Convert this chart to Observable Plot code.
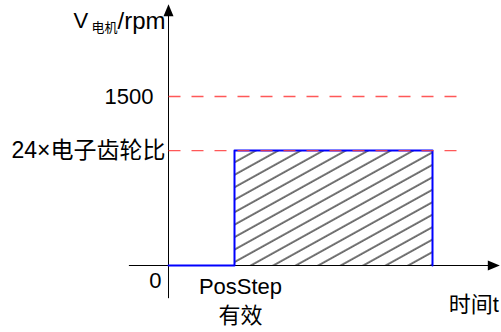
<!DOCTYPE html>
<html>
<head>
<meta charset="utf-8">
<script src="https://cdn.jsdelivr.net/npm/d3@7"></script>
<script src="https://cdn.jsdelivr.net/npm/@observablehq/plot@0.6"></script>
<style>
  html, body { margin: 0; padding: 0; background: #fff; }
  #chart svg { display: block; }
</style>
</head>
<body>
<div id="chart"></div>
<script>
// ---- data ----
const eventTimes = [0, 1, 4];            // origin, PosStep valid, end of motion
const levelNames = ["0", "24×电子齿轮比", "1500"];
const levelValues = [0, 1020, 1500];      // rpm
const stepT = [0, 1, 1, 4, 4];
const stepV = [0, 0, 1020, 1020, 0];
const xAxisExtent = [-0.6, 5.02];         // time axis span (t units)
const yAxisExtent = [-290, 2318];         // speed axis span (rpm)
const dashedEnd = 4.42;
const yLabelMain = "V";
const yLabelSub = "电机";
const yLabelUnit = "/rpm";
const xLabel = "时间t";
const eventLabel = ["PosStep", "有效"];

const FONT = "'Liberation Sans', Arial, 'Noto Sans CJK SC', sans-serif";
const L = levelValues[1];

const step = stepT.map((t, i) => ({t, v: stepV[i]}));
const dashed = [levelValues[2], levelValues[1]].map(v => ({x1: eventTimes[0], x2: dashedEnd, y: v}));

const arrowSymbol = {
  draw(ctx) {
    ctx.moveTo(0, 0);
    ctx.lineTo(-5, 12);
    ctx.lineTo(5, 12);
    ctx.closePath();
  }
};

const plot = Plot.plot({
  width: 501,
  height: 332,
  marginLeft: 168,
  marginRight: 69,
  marginTop: 96,
  marginBottom: 67,
  style: {background: "#fff", fontFamily: FONT},
  x: {domain: [eventTimes[0], eventTimes[2]], axis: null},
  y: {domain: [levelValues[0], levelValues[2]], axis: null},
  marks: [
    Plot.rect([{x1: eventTimes[1], x2: eventTimes[2], y1: 0, y2: L}], {
      x1: "x1", x2: "x2", y1: "y1", y2: "y2", fill: "url(#hatch)", inset: 0
    }),
    // axes lines
    Plot.link([{x1: xAxisExtent[0], x2: xAxisExtent[1] - 0.1, y: 0}], {
      x1: "x1", x2: "x2", y1: "y", y2: "y", stroke: "#000", strokeWidth: 1
    }),
    Plot.link([{y1: yAxisExtent[0], y2: yAxisExtent[1] - 80, x: 0}], {
      y1: "y1", y2: "y2", x1: "x", x2: "x", stroke: "#000", strokeWidth: 1
    }),
    // blue step outline
    Plot.line(step, {x: "t", y: "v", stroke: "#0000ff", strokeWidth: 2}),
    // red dashed reference lines
    Plot.link(dashed, {
      x1: "x1", x2: "x2", y1: "y", y2: "y",
      stroke: "#ff3b3b", strokeOpacity: 0.85, strokeWidth: 1.3, strokeDasharray: "12,11"
    }),
    // arrowheads
    Plot.dot([{x: 0, y: yAxisExtent[1]}], {x: "x", y: "y", symbol: arrowSymbol, fill: "#000", stroke: "none"}),
    Plot.dot([{x: xAxisExtent[1], y: 0}], {x: "x", y: "y", symbol: arrowSymbol, fill: "#000", stroke: "none", rotate: 90}),
    // level labels
    Plot.text([{y: levelValues[2], s: levelNames[2]}], {x: () => 0, y: "y", text: "s", textAnchor: "end", dx: -15, fontSize: 22}),
    Plot.text([{y: levelValues[1], s: levelNames[1]}], {x: () => 0, y: "y", text: "s", textAnchor: "end", dx: -3, fontSize: 23}),
    Plot.text([{y: levelValues[0], s: levelNames[0]}], {x: () => 0, y: "y", text: "s", textAnchor: "end", dx: -7, dy: 15, fontSize: 22}),
    // event labels
    Plot.text([{x: eventTimes[1], s: eventLabel[0]}], {x: "x", y: () => 0, text: "s", textAnchor: "middle", dx: 6, dy: 21, fontSize: 22}),
    Plot.text([{x: eventTimes[1], s: eventLabel[1]}], {x: "x", y: () => 0, text: "s", textAnchor: "middle", dx: 6, dy: 50, fontSize: 22}),
    // x label
    Plot.text([{x: xAxisExtent[1], s: xLabel}], {x: "x", y: () => 0, text: "s", textAnchor: "end", dx: -1, dy: 39, fontSize: 22}),
    // y label (V 电机 /rpm)
    Plot.text([{y: yAxisExtent[1], s: yLabelMain}], {x: () => 0, y: "y", text: "s", textAnchor: "start", dx: -95, dy: 17, fontSize: 22}),
    Plot.text([{y: yAxisExtent[1], s: yLabelSub}], {x: () => 0, y: "y", text: "s", textAnchor: "start", dx: -77, dy: 23, fontSize: 13}),
    Plot.text([{y: yAxisExtent[1], s: yLabelUnit}], {x: () => 0, y: "y", text: "s", textAnchor: "start", dx: -51, dy: 17, fontSize: 24})
  ]
});

// hatch pattern definition
const ns = "http://www.w3.org/2000/svg";
const defs = document.createElementNS(ns, "defs");
const pat = document.createElementNS(ns, "pattern");
pat.setAttribute("id", "hatch");
pat.setAttribute("patternUnits", "userSpaceOnUse");
pat.setAttribute("width", "12");
pat.setAttribute("height", "10.9");
pat.setAttribute("patternTransform", "rotate(-29)");
const ln = document.createElementNS(ns, "line");
ln.setAttribute("x1", "-1"); ln.setAttribute("x2", "13");
ln.setAttribute("y1", "5"); ln.setAttribute("y2", "5");
ln.setAttribute("stroke", "#000");
ln.setAttribute("stroke-width", "1.1");
pat.appendChild(ln);
defs.appendChild(pat);
plot.insertBefore(defs, plot.firstChild);

document.getElementById("chart").appendChild(plot);
</script>
</body>
</html>
